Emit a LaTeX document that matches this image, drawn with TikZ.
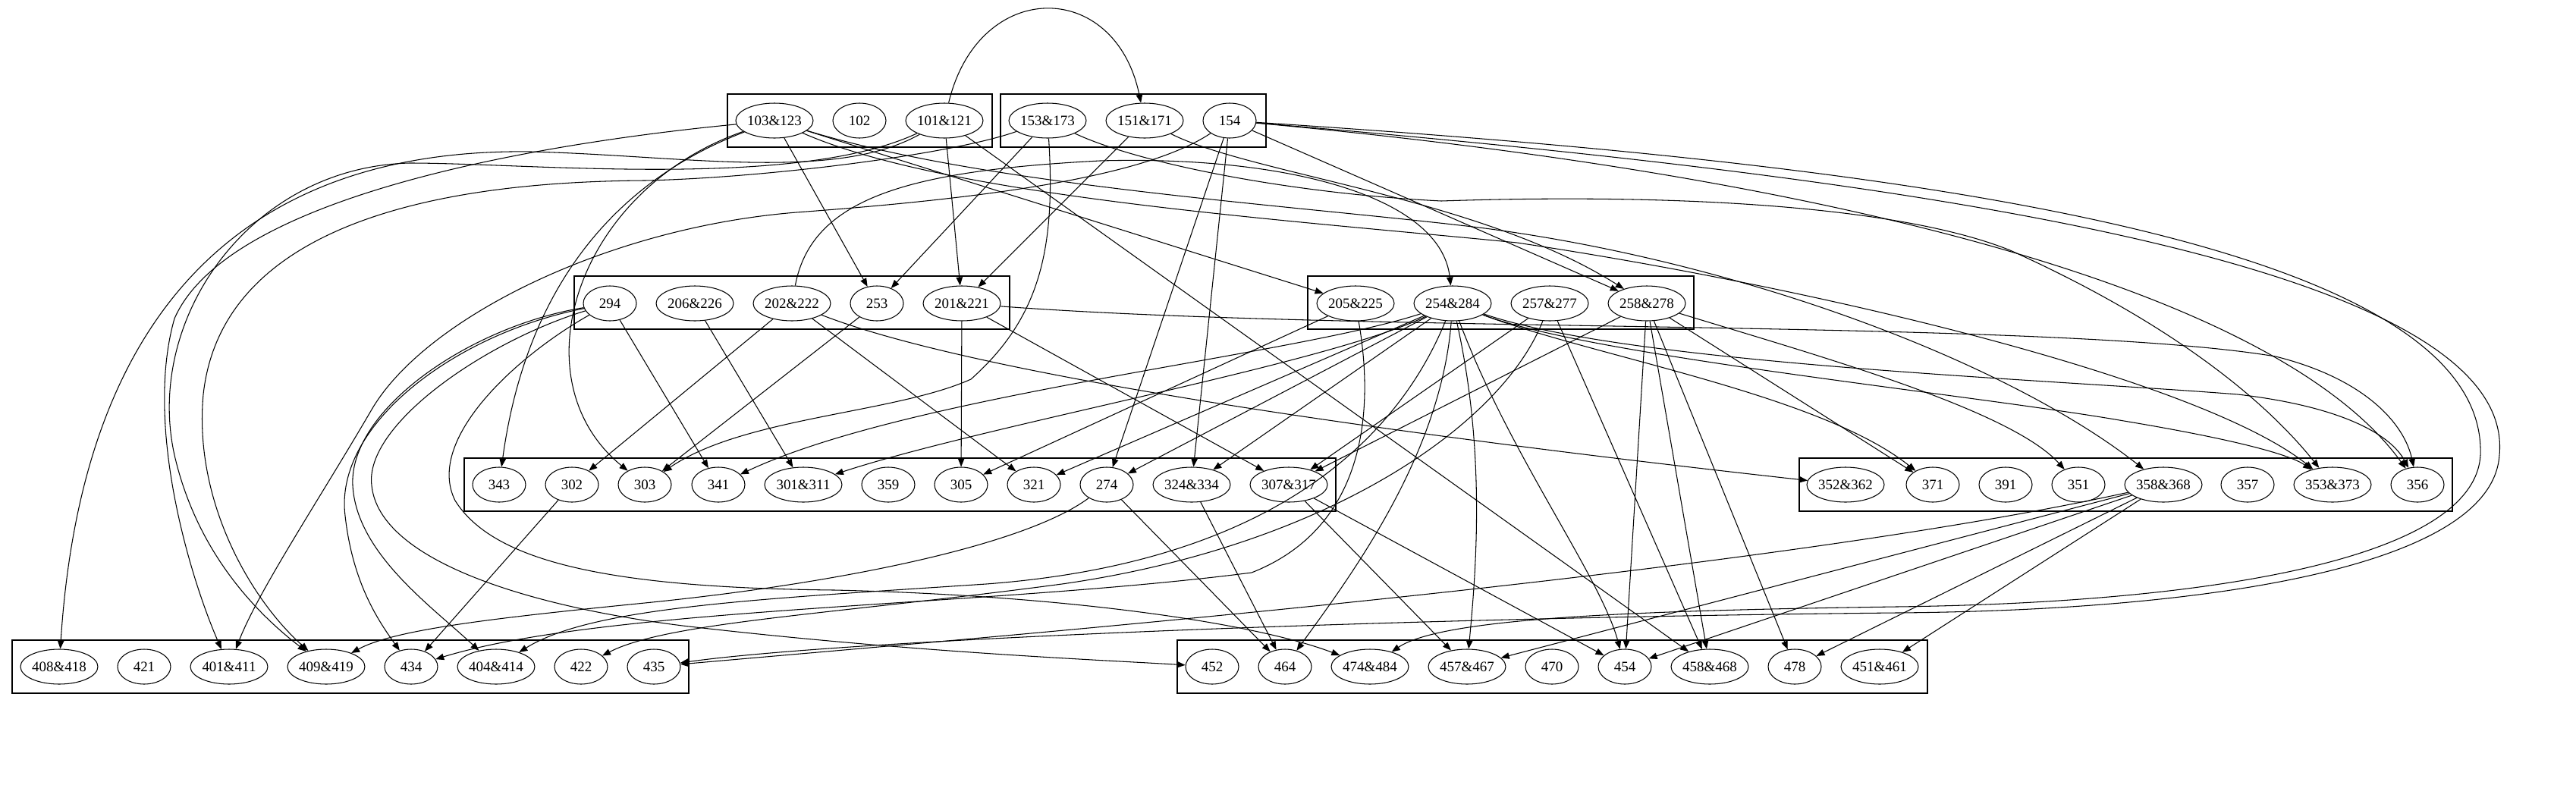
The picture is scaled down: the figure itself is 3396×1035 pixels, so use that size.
\documentclass[tikz,border=0pt]{standalone}
\usepackage{fontspec}
\usetikzlibrary{shapes.geometric,arrows.meta}
\newfontfamily\nf{Liberation Serif}
\tikzset{
  E/.style={draw, ellipse, minimum width=10.2mm, minimum height=4.6mm, inner sep=0pt, line width=0.3pt, font={\nf\fontsize{5.4}{6}\selectfont}},
  C/.style={E, minimum width=7mm},
  e/.style={draw, line width=0.3pt, -{Triangle[length=1.1mm,width=0.85mm]}},
  clus/.style={draw, line width=0.35pt}
}
\begin{document}
\begin{tikzpicture}[x=0.1mm, y=-0.1mm]
\fill[white] (0,0) rectangle (3396,1035);
\useasboundingbox (0,0) rectangle (3396,1035);
% clusters
\draw[clus] (959,124) rectangle (1308,194);
\draw[clus] (1319,124) rectangle (1669,194);
\draw[clus] (757,364) rectangle (1331,434);
\draw[clus] (1724,364) rectangle (2233,434);
\draw[clus] (612,604) rectangle (1761,674);
\draw[clus] (2372,604) rectangle (3233,674);
\draw[clus] (16,844) rectangle (908,914);
\draw[clus] (1552,844) rectangle (2541,914);
% row 1
\node[E] (n103) at (1021,159) {103\&123};
\node[C] (n102) at (1133,159) {102};
\node[E] (n101) at (1245,159) {101\&121};
\node[E] (n153) at (1381,159) {153\&173};
\node[E] (n151) at (1509,159) {151\&171};
\node[C] (n154) at (1621,159) {154};
% row 2
\node[C] (n294) at (804,400) {294};
\node[E] (n206) at (916,400) {206\&226};
\node[E] (n202) at (1044,400) {202\&222};
\node[C] (n253) at (1156,400) {253};
\node[E] (n201) at (1268,400) {201\&221};
\node[E] (n205) at (1787,400) {205\&225};
\node[E] (n254) at (1915,400) {254\&284};
\node[E] (n257) at (2043,400) {257\&277};
\node[E] (n258) at (2171,400) {258\&278};
% row 3
\node[C] (n343) at (658,639) {343};
\node[C] (n302) at (754,639) {302};
\node[C] (n303) at (850,639) {303};
\node[C] (n341) at (947,639) {341};
\node[E] (n301) at (1059,639) {301\&311};
\node[C] (n359) at (1171,639) {359};
\node[C] (n305) at (1267,639) {305};
\node[C] (n321) at (1363,639) {321};
\node[C] (n274) at (1459,639) {274};
\node[E] (n324) at (1571,639) {324\&334};
\node[E] (n307) at (1699,639) {307\&317};
\node[E] (n352) at (2433,639) {352\&362};
\node[C] (n371) at (2548,639) {371};
\node[C] (n391) at (2644,639) {391};
\node[C] (n351) at (2740,639) {351};
\node[E] (n358) at (2852,639) {358\&368};
\node[C] (n357) at (2963,639) {357};
\node[E] (n353) at (3075,639) {353\&373};
\node[C] (n356) at (3187,639) {356};
% row 4
\node[E] (n408) at (78,879) {408\&418};
\node[C] (n421) at (190,879) {421};
\node[E] (n401) at (302,879) {401\&411};
\node[E] (n409) at (430,879) {409\&419};
\node[C] (n434) at (542,879) {434};
\node[E] (n404) at (654,879) {404\&414};
\node[C] (n422) at (766,879) {422};
\node[C] (n435) at (862,879) {435};
\node[C] (n452) at (1598,879) {452};
\node[C] (n464) at (1694,879) {464};
\node[E] (n474) at (1806,879) {474\&484};
\node[E] (n457) at (1934,879) {457\&467};
\node[C] (n470) at (2046,879) {470};
\node[C] (n454) at (2142,879) {454};
\node[E] (n458) at (2254,879) {458\&468};
\node[C] (n478) at (2366,879) {478};
\node[E] (n451) at (2478,879) {451\&461};
% ---- edges ----
\draw[e] (n101) .. controls (1290,-29) and (1470,-29) .. (n151);
\draw[e] (n103) -- (n253);
\draw[e] (n153) -- (n253);
\draw[e] (n101) -- (n201);
\draw[e] (n151) -- (n201);
\draw[e] (n103) -- (n205);
\draw[e] (n154) -- (n258);
\draw[e] (n151) .. controls (1650,230) and (1950,260) .. (n258);
\draw[e] (n202) .. controls (1070,260) and (1200,225) .. (1450,212) .. controls (1700,205) and (1900,260) .. (n254);
% row1 -> row3/4
\draw[e] (n103) .. controls (860,220) and (700,330) .. (n343);
\draw[e] (n103) .. controls (760,250) and (680,500) .. (n303);
\draw[e] (n153) .. controls (1392,330) and (1370,420) .. (1280,500) .. controls (1180,545) and (980,550) .. (n303);
\draw[e] (n154) -- (n274);
\draw[e] (n154) -- (n324);
\draw[e] (n101) -- (n458);
% left loops
\draw[e] (n101) .. controls (1100,240) and (900,205) .. (700,200) .. controls (350,195) and (110,380) .. (n408);
\draw[e] (n103) .. controls (700,190) and (300,260) .. (230,420) .. controls (190,560) and (250,760) .. (n401);
\draw[e] (n101) .. controls (1050,250) and (700,215) .. (540,215) .. controls (330,220) and (190,420) .. (230,600) .. controls (260,730) and (340,810) .. (n409);
\draw[e] (n153) .. controls (1250,205) and (1000,235) .. (850,238) .. controls (520,240) and (290,320) .. (268,520) .. controls (255,660) and (330,790) .. (n409);
\draw[e] (n154) .. controls (1500,240) and (1250,265) .. (1050,280) .. controls (800,300) and (560,420) .. (490,540) .. controls (420,660) and (340,780) .. (n401);
% right loops
\draw[e] (n154) .. controls (2400,210) and (3280,300) .. (3270,600) .. controls (3262,740) and (2900,795) .. (2500,800) .. controls (2150,805) and (1900,815) .. (n474);
\draw[e] (n154) .. controls (2400,225) and (3320,330) .. (3295,600) .. controls (3285,750) and (2900,805) .. (2500,808) .. controls (1800,815) and (1100,845) .. (n435);
\draw[e] (n154) .. controls (2400,230) and (3000,380) .. (n356);
\draw[e] (n103) .. controls (1250,260) and (1700,290) .. (2000,320) .. controls (2400,380) and (2900,500) .. (n353);
\draw[e] (n103) .. controls (1300,245) and (1700,270) .. (1950,300) .. controls (2300,345) and (2650,480) .. (n358);
\draw[e] (n153) .. controls (1500,215) and (1700,255) .. (1900,265) .. controls (2200,255) and (2500,270) .. (2650,330) .. controls (2850,420) and (2980,520) .. (n353);
% row2 -> row3
\draw[e] (n202) -- (n302);
\draw[e] (n253) -- (n303);
\draw[e] (n294) -- (n341);
\draw[e] (n206) -- (n301);
\draw[e] (n201) -- (n305);
\draw[e] (n205) -- (n305);
\draw[e] (n202) -- (n321);
\draw[e] (n201) -- (n307);
\draw[e] (n257) -- (n307);
\draw[e] (n258) -- (n307);
\draw[e] (n258) -- (n371);
\draw[e] (n258) .. controls (2400,470) and (2650,540) .. (n351);
\draw[e] (n202) .. controls (1300,500) and (1900,580) .. (n352);
\draw[e] (n201) .. controls (1800,440) and (2700,420) .. (3000,470) .. controls (3120,500) and (3170,560) .. (n356);
\draw[e] (n254) .. controls (1700,470) and (1200,520) .. (n341);
\draw[e] (n254) .. controls (1750,480) and (1300,560) .. (n301);
\draw[e] (n254) -- (n321);
\draw[e] (n254) -- (n274);
\draw[e] (n254) -- (n324);
\draw[e] (n254) .. controls (2100,470) and (2400,520) .. (n371);
\draw[e] (n254) .. controls (2100,470) and (2600,520) .. (2800,555) .. controls (2950,580) and (3020,600) .. (n353);
\draw[e] (n254) .. controls (2150,480) and (2700,500) .. (2950,520) .. controls (3080,535) and (3150,570) .. (n356);
% to row 4
\draw[e] (n274) -- (n464);
\draw[e] (n324) -- (n464);
\draw[e] (n254) .. controls (1900,600) and (1780,760) .. (n464);
\draw[e] (n307) -- (n457);
\draw[e] (n307) -- (n454);
\draw[e] (n254) .. controls (1960,600) and (1945,760) .. (n457);
\draw[e] (n254) .. controls (1990,600) and (2110,760) .. (n454);
\draw[e] (n258) -- (n454);
\draw[e] (n257) -- (n458);
\draw[e] (n258) -- (n458);
\draw[e] (n258) -- (n478);
\draw[e] (n358) -- (n457);
\draw[e] (n358) -- (n454);
\draw[e] (n358) -- (n478);
\draw[e] (n358) -- (n451);
\draw[e] (n358) .. controls (2300,760) and (1300,840) .. (n435);
\draw[e] (n274) .. controls (1350,720) and (1100,770) .. (850,795) .. controls (650,815) and (520,830) .. (n409);
\draw[e] (n302) -- (n434);
\draw[e] (n205) .. controls (1815,560) and (1790,700) .. (1650,755) .. controls (1300,800) and (800,800) .. (n434);
\draw[e] (n254) .. controls (1850,560) and (1700,740) .. (1300,770) .. controls (1000,790) and (780,800) .. (n404);
\draw[e] (n257) .. controls (1980,560) and (1750,720) .. (1400,770) .. controls (1100,810) and (880,820) .. (n422);
\draw[e] (n294) .. controls (600,440) and (440,560) .. (455,680) .. controls (465,770) and (500,820) .. (n434);
\draw[e] (n294) .. controls (620,430) and (460,540) .. (465,640) .. controls (470,730) and (570,800) .. (n404);
\draw[e] (n294) .. controls (640,450) and (480,560) .. (490,640) .. controls (500,740) and (700,800) .. (900,825) .. controls (1200,860) and (1450,870) .. (n452);
\draw[e] (n294) .. controls (680,470) and (560,580) .. (600,660) .. controls (650,740) and (800,775) .. (1100,778) .. controls (1400,785) and (1650,820) .. (n474);
\end{tikzpicture}
\end{document}
